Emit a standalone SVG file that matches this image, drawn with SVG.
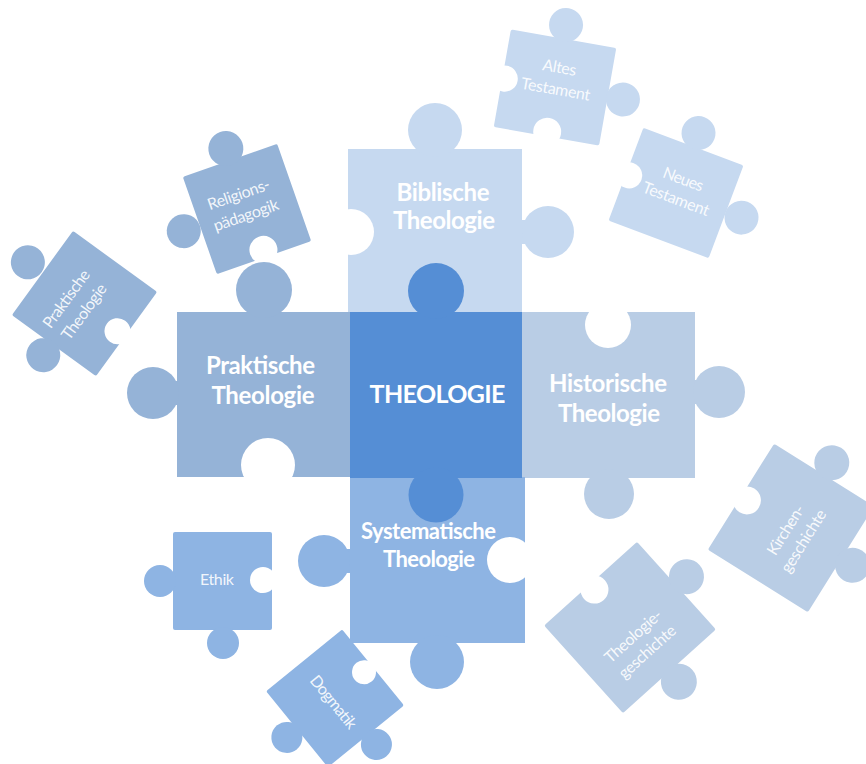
<svg xmlns="http://www.w3.org/2000/svg" width="866" height="764" viewBox="0 0 866 764">
<style>
.bib{fill:#C6D9F0}
.prak{fill:#95B3D7}
.hist{fill:#B9CDE5}
.sys{fill:#8EB4E3}
.theo{fill:#558ED5}
.hole{fill:#FFFFFF}
.big{font-family:Lato,'Open Sans',sans-serif;font-weight:700;fill:#FFFFFF;text-anchor:middle;font-size:24px}
.small{font-family:Lato,'Open Sans',sans-serif;font-size:16px;fill:#FFFFFF;fill-opacity:0.9;text-anchor:middle}
</style>
<rect width="866" height="764" fill="#FFFFFF"/>

<!-- small pieces -->
<g id="altes-testament" transform="translate(555,87.5) rotate(10)">
  <rect class="bib" x="-53.5" y="-49.5" width="107" height="99" rx="2"/>
  <circle class="bib" cx="0" cy="-63.5" r="17"/>
  <circle class="bib" cx="69" cy="0" r="17"/>
  <circle class="hole" cx="-51" cy="0" r="13"/>
  <circle class="hole" cx="0" cy="45" r="14"/>
  <text class="small" x="1" y="-15" textLength="34">Altes</text>
  <text class="small" x="1" y="7" textLength="70">Testament</text>
</g>

<g id="neues-testament" transform="translate(676,193) rotate(20.6)">
  <rect class="bib" x="-53.5" y="-49.5" width="107" height="99" rx="2"/>
  <circle class="bib" cx="0" cy="-64" r="17"/>
  <circle class="bib" cx="70" cy="0" r="17"/>
  <circle class="hole" cx="-50" cy="0" r="13"/>
  <text class="small" x="2" y="-10" textLength="42">Neues</text>
  <text class="small" x="2" y="11" textLength="70">Testament</text>
</g>

<g id="religionspaedagogik" transform="translate(247,209) rotate(-19.3)">
  <rect class="prak" x="-50" y="-51.5" width="100" height="103" rx="2"/>
  <circle class="prak" cx="0" cy="-64" r="17.5"/>
  <circle class="prak" cx="-67" cy="0" r="17"/>
  <circle class="hole" cx="2" cy="44" r="14"/>
  <text class="small" x="-3" y="-11" textLength="65">Religions-</text>
  <text class="small" x="-3" y="11" textLength="68">pädagogik</text>
</g>

<g id="praktische-theologie-klein">
  <g transform="translate(84.5,303.5) rotate(36)">
    <rect class="prak" x="-52" y="-52" width="104" height="104" rx="2"/>
    <circle class="prak" cx="-70" cy="0" r="17"/>
    <circle class="prak" cx="-3" cy="66" r="17"/>
    <circle class="hole" cx="43" cy="3" r="13"/>
  </g>
  <g transform="translate(84.5,303.5) rotate(-54)">
    <text class="small" x="-7" y="-12" textLength="68">Praktische</text>
    <text class="small" x="-7" y="10" textLength="65">Theologie</text>
  </g>
</g>

<g id="ethik">
  <rect class="sys" x="173" y="532" width="99" height="98" rx="2"/>
  <circle class="sys" cx="160" cy="581" r="16"/>
  <circle class="sys" cx="223" cy="643" r="16"/>
  <circle class="hole" cx="263" cy="580" r="13"/>
  <text class="small" x="217" y="585" textLength="34">Ethik</text>
</g>

<g id="dogmatik" transform="translate(335,698.3) rotate(50.9)">
  <rect class="sys" x="-49" y="-49" width="98" height="98" rx="2"/>
  <circle class="sys" cx="0" cy="62" r="15.5"/>
  <circle class="sys" cx="62" cy="-3" r="15.5"/>
  <circle class="hole" cx="-2" cy="-39" r="12"/>
  <text class="small" x="2" y="9" textLength="64">Dogmatik</text>
</g>

<g id="kirchengeschichte">
  <g transform="translate(791,528) rotate(32)">
    <rect class="hist" x="-59" y="-62.5" width="118" height="125" rx="2"/>
    <circle class="hist" cx="0" cy="-77" r="17.5"/>
    <circle class="hist" cx="72" cy="-1" r="17.5"/>
    <circle class="hole" cx="-52" cy="0" r="14"/>
  </g>
  <g transform="translate(791,528) rotate(-58)">
    <text class="small" x="-4.5" y="2" textLength="56">Kirchen-</text>
    <text class="small" x="-4.5" y="23" textLength="71">geschichte</text>
  </g>
</g>

<g id="theologiegeschichte">
  <g transform="translate(630,627.5) rotate(48)">
    <rect class="hist" x="-59" y="-62.5" width="118" height="125" rx="2"/>
    <circle class="hist" cx="0" cy="-76" r="17.5"/>
    <circle class="hist" cx="73" cy="0" r="18"/>
    <circle class="hole" cx="-52" cy="1" r="14"/>
  </g>
  <g transform="translate(630,627.5) rotate(-42)">
    <text class="small" x="-3.5" y="14" textLength="71">Theologie-</text>
    <text class="small" x="-3.5" y="35" textLength="71">geschichte</text>
  </g>
</g>

<!-- main pieces -->
<g id="biblische-theologie">
  <rect class="bib" x="348" y="149" width="174" height="163"/>
  <circle class="bib" cx="435" cy="130" r="27"/>
  <rect class="bib" x="518" y="220" width="22" height="24"/>
  <circle class="bib" cx="548" cy="232" r="26"/>
  <circle class="hole" cx="351" cy="232" r="23"/>
  <text class="big" x="443" y="201" textLength="93">Biblische</text>
  <text class="big" x="444" y="229" textLength="102">Theologie</text>
</g>

<g id="praktische-theologie">
  <rect class="prak" x="177" y="312" width="173" height="165"/>
  <circle class="prak" cx="264" cy="290" r="28"/>
  <rect class="prak" x="165" y="381" width="15" height="24"/>
  <circle class="prak" cx="153" cy="393" r="26"/>
  <circle class="hole" cx="268" cy="465" r="27"/>
  <text class="big" x="260.5" y="374" textLength="109">Praktische</text>
  <text class="big" x="263" y="404" textLength="103">Theologie</text>
</g>

<g id="historische-theologie">
  <rect class="hist" x="521" y="312" width="174" height="166"/>
  <circle class="hole" cx="608" cy="325" r="23"/>
  <rect class="hist" x="690" y="380" width="18" height="24"/>
  <circle class="hist" cx="719" cy="392" r="26"/>
  <circle class="hist" cx="609" cy="494" r="25"/>
  <text class="big" x="608" y="392" textLength="118">Historische</text>
  <text class="big" x="609" y="422" textLength="102">Theologie</text>
</g>

<g id="systematische-theologie">
  <rect class="sys" x="350" y="477" width="175" height="166"/>
  <rect class="sys" x="338" y="549" width="15" height="24"/>
  <circle class="sys" cx="324" cy="561" r="26"/>
  <circle class="hole" cx="510" cy="560" r="23"/>
  <circle class="sys" cx="437" cy="662" r="27"/>
  <text class="big" x="428.5" y="539" textLength="135" style="font-size:22px">Systematische</text>
  <text class="big" x="429" y="567" textLength="92" style="font-size:22px">Theologie</text>
</g>

<g id="theologie">
  <rect class="theo" x="350" y="312" width="172" height="166"/>
  <circle class="theo" cx="436" cy="291" r="28"/>
  <circle class="theo" cx="436" cy="495" r="27.5"/>
  <text class="big" x="437.5" y="403" textLength="136" style="font-size:25px">THEOLOGIE</text>
</g>
</svg>
